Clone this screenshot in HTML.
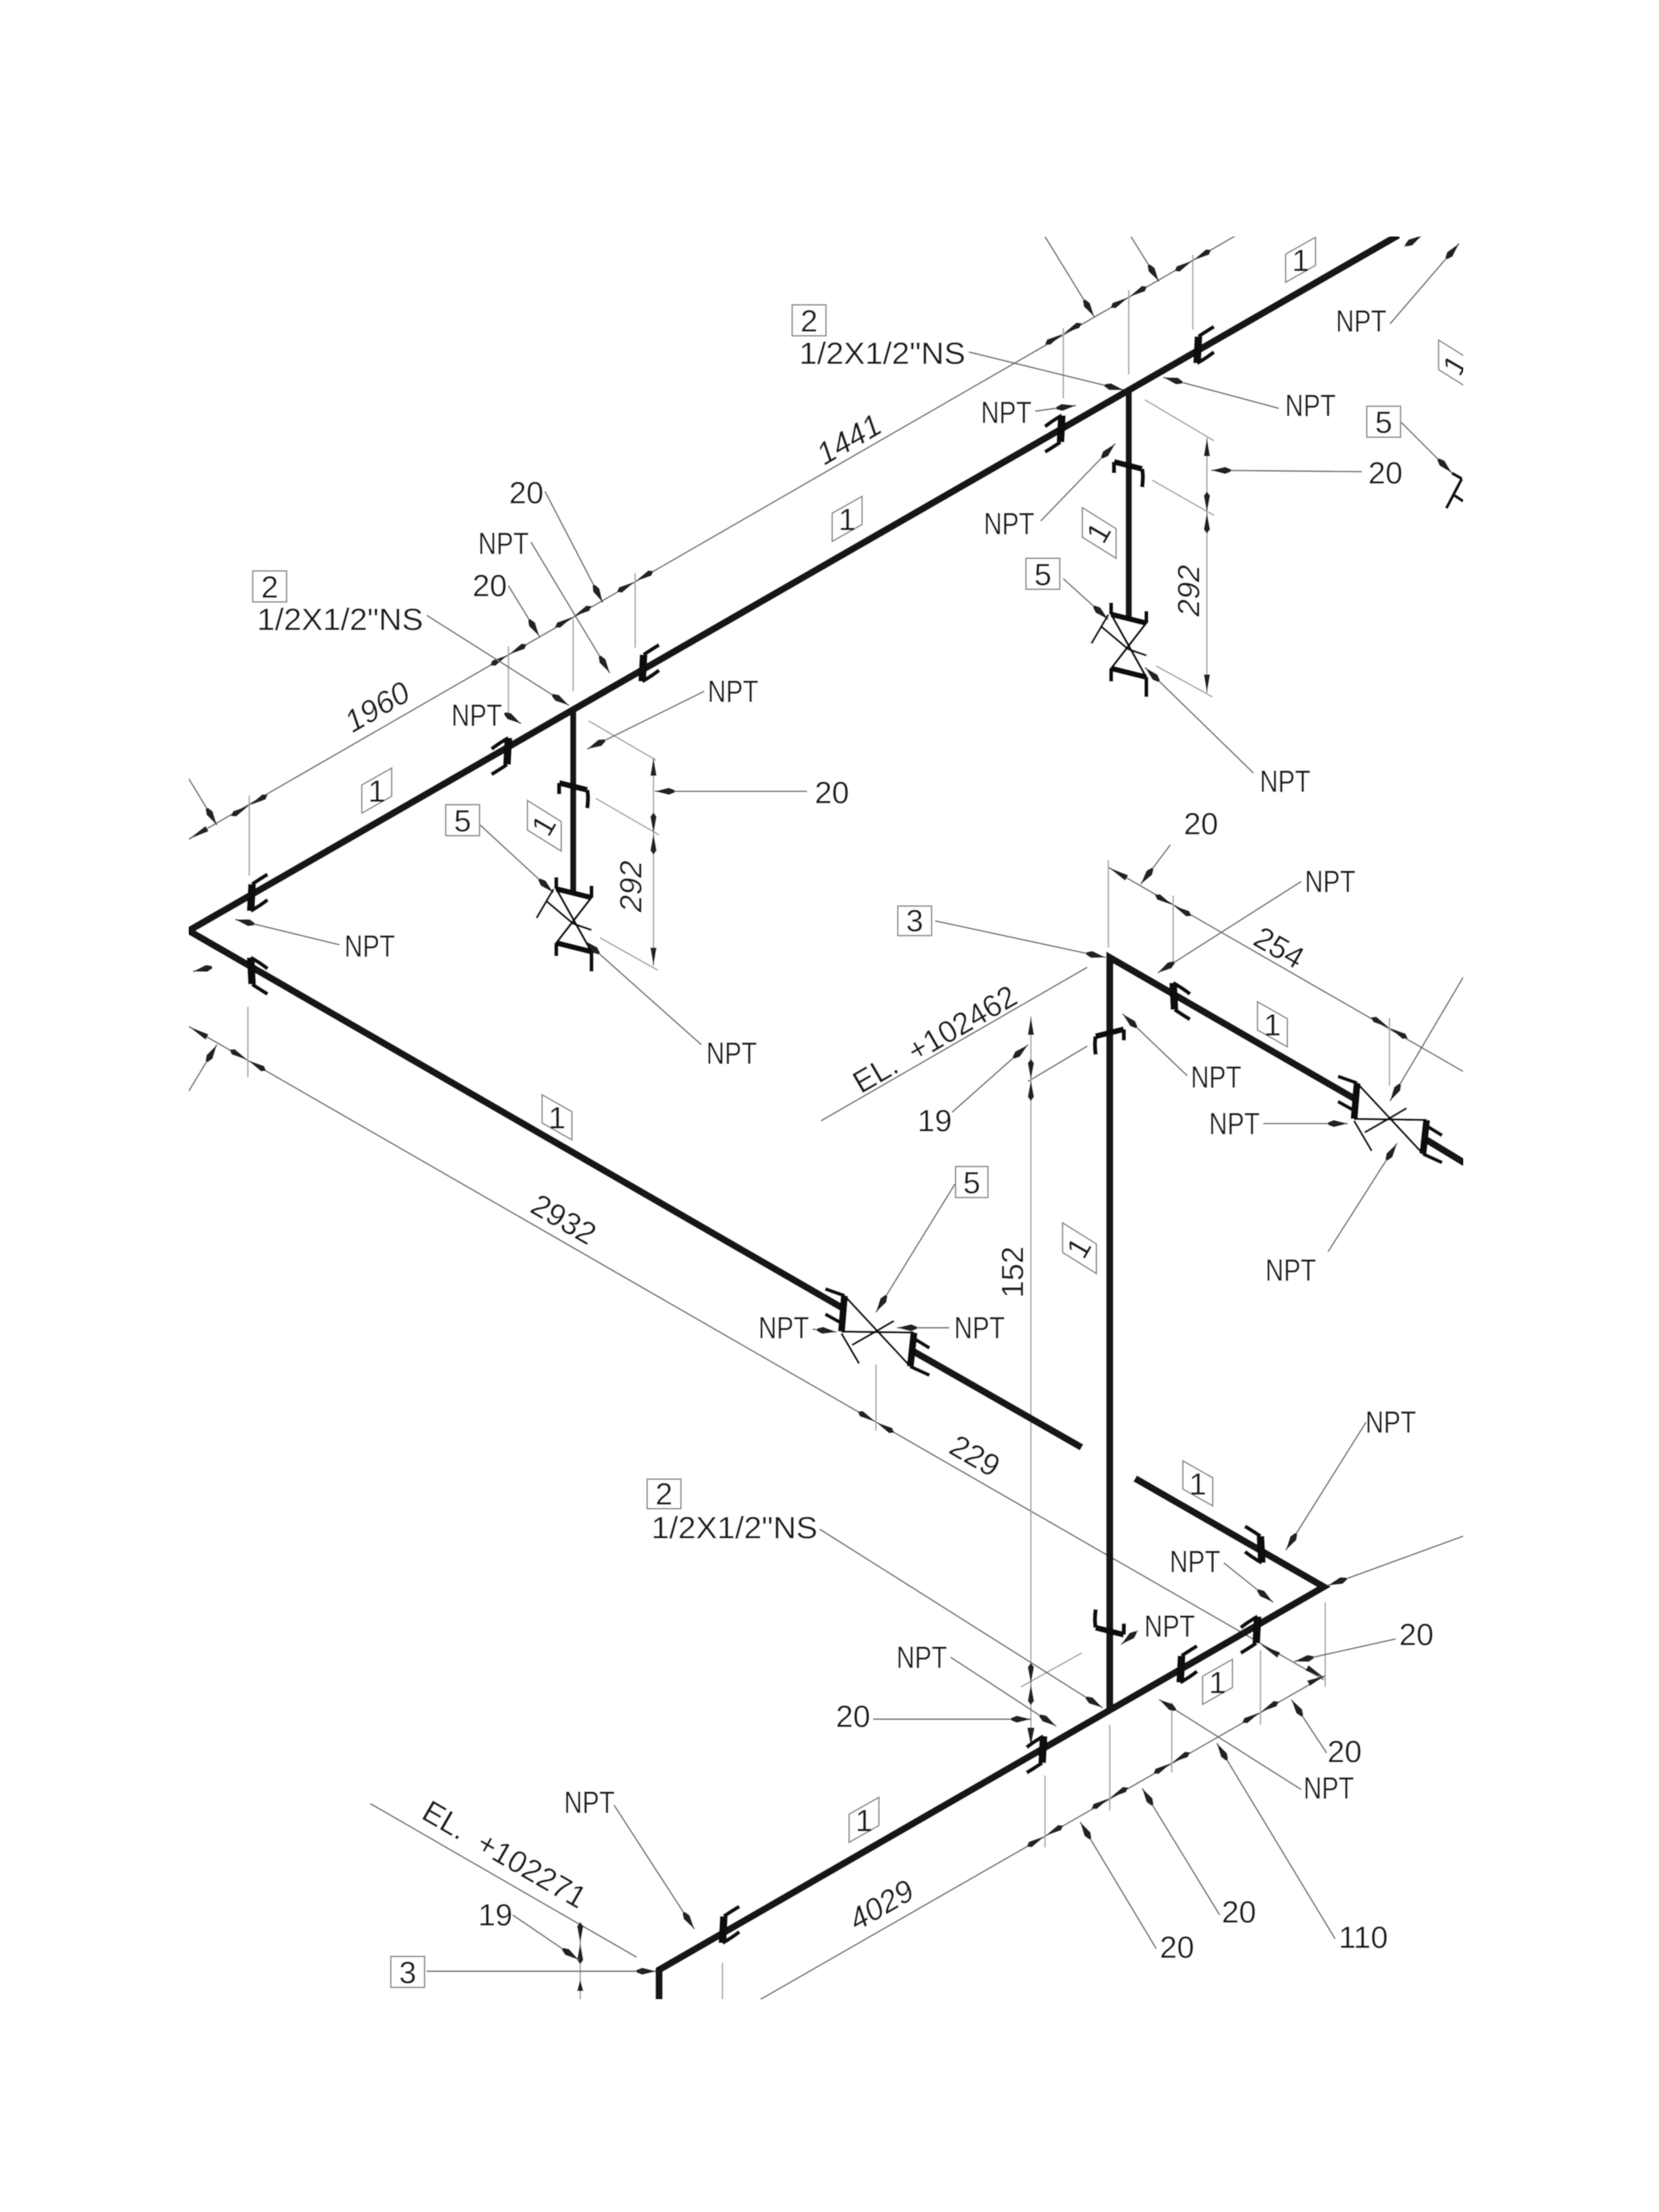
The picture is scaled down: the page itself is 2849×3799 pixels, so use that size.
<!DOCTYPE html>
<html><head><meta charset="utf-8"><style>
html,body{margin:0;padding:0;background:#fff;width:2849px;height:3799px;overflow:hidden}
svg{display:block}
text{font-family:"Liberation Sans",sans-serif;font-size:22px;fill:#1c1c1c}
.m{text-anchor:middle}
.i{font-style:italic}
.p{stroke:#121212;stroke-width:5;fill:none;stroke-linecap:butt}
.l{stroke:#707070;stroke-width:1;fill:none}
.g{stroke:#a8a8a8;stroke-width:1;fill:none}
.a{stroke:#707070;stroke-width:1;fill:none;marker-end:url(#ah)}
.b{fill:#fff;stroke:#8c8c8c;stroke-width:1}
</style></head><body>
<svg xmlns="http://www.w3.org/2000/svg" width="2849" height="3799" viewBox="0 0 1178 1571" preserveAspectRatio="none">
<defs>
<filter id="soft" x="0" y="0" width="100%" height="100%" filterUnits="userSpaceOnUse"><feGaussianBlur stdDeviation="0.35"/></filter>
<marker id="ah" viewBox="0 0 14 5" refX="14" refY="2.5" markerWidth="14" markerHeight="5" orient="auto" markerUnits="userSpaceOnUse"><path d="M0 1.6L4 0L14 2.5L4 5L0 3.4z" fill="#222"/></marker>
<clipPath id="c"><rect x="134" y="168" width="905" height="1252"/></clipPath>
<g id="dt"><path d="M-15 0L-12 -2.2L0 0L-12 2.2zM15 0L12 -2.2L0 0L12 2.2z" fill="#222"/></g>
<g id="fu" fill="none" stroke="#111"><path d="M0 -9L-1 10" stroke-width="5.5"/><path d="M0 -9Q6 -13 11 -16M-1 10Q6 6 11 2" stroke-width="2.8"/></g>
<g id="fd" fill="none" stroke="#111"><path d="M0 9L-1 -10" stroke-width="5.5"/><path d="M0 9Q6 13 11 16M-1 -10Q6 -6 11 -2" stroke-width="2.8"/></g>
<g id="fv" fill="none" stroke="#111"><path d="M-10 -2L10 3" stroke-width="4.2"/><path d="M-10 -2L-10 6M10 3Q11 8 10 16" stroke-width="3"/></g>
<g id="vv" fill="none" stroke="#111"><path d="M-12 -24.7L12.9 -18.5L-12 13.7L12.9 19.9Z" stroke-width="1.6"/><path d="M0 0L-19 -16M-26 -4L-14 -24.5M0 0L13 4.5" stroke-width="1.5"/><path d="M-12 -24.7L12.9 -18.5M-12 13.7L12.9 19.9" stroke-width="4"/><path d="M-12 -25L-12 -33M13 -18.5L13 -27M-12 14L-12 23M13 20L13 34" stroke-width="2.8"/></g>
<g id="vh" fill="none" stroke="#111"><path d="M-23.4 -24.8L23.4 25.5M-25.5 .7L26 1.4" stroke-width="1.5"/><path d="M0 0L-18 10.3M-25.5 2L-13 23.4M0 0L11.7 -6.9" stroke-width="1.5"/><path d="M-23.4 -24.8L-25.5 .7M26 1.4L23.4 25.5" stroke-width="5"/><path d="M-23.4 -24.8L-37 -29.6M-25 -5L-37 -11.7M25 5L37 12.4M23.4 25.5L37 31.7" stroke-width="2.6"/></g>
<polygon id="bu" points="-10.6,-4 10.6,-16 10.6,4 -10.6,16" class="b"/>
<polygon id="bd" points="-10.6,-16 10.6,-4 10.6,16 -10.6,4" class="b"/>
<polygon id="bv" points="-12,-18 12,-3 12,18 -12,3" class="b"/>
</defs>
<g clip-path="url(#c)"><g filter="url(#soft)">
<rect x="0" y="0" width="1178" height="1571" fill="#fff"/>

<path class="l" d="M134 596L885 163"/>
<path class="l" d="M134 729L940 1193"/>
<path class="l" d="M787 616L1039 761"/>
<path class="l" d="M540 1420L941 1190"/>
<path class="l" d="M583 796L772 687M772 743L730 768"/>
<path class="l" d="M263 1281L452 1390"/>
<path class="g" d="M464 538V686M857 311V492M732 722V1240M412 1367V1420"/>
<path class="g" d="M418 512L466 540M423 567L468 593M426 666L467 689M813 284L862 313M818 341L862 366M821 473L861 495M768 1174L725 1198"/>
<path class="g" d="M177 565V622M361 459V508M407 440V491M451 407V460M755 233V283M801.5 206V266M847 181V234M176 715V765M622 969V1016M787 611V673M833 636V683M986.6 723V771M742 1261V1312M788 1225V1286M832 1209V1259M895 1172V1225M941 1138V1198M513 1394V1420"/>

<use href="#dt" transform="translate(177,572) rotate(-30)"/>
<use href="#dt" transform="translate(361,465) rotate(-30)"/>
<use href="#dt" transform="translate(407,438) rotate(-30)"/>
<use href="#dt" transform="translate(451,413) rotate(-30)"/>
<use href="#dt" transform="translate(755,237) rotate(-30)"/>
<use href="#dt" transform="translate(801.5,211) rotate(-30)"/>
<use href="#dt" transform="translate(847,185) rotate(-30)"/>
<use href="#dt" transform="translate(176,753) rotate(30)"/>
<use href="#dt" transform="translate(622,1010) rotate(30)"/>
<use href="#dt" transform="translate(833,643) rotate(30)"/>
<use href="#dt" transform="translate(986.6,730) rotate(30)"/>
<use href="#dt" transform="translate(742,1304) rotate(-30)"/>
<use href="#dt" transform="translate(788,1277) rotate(-30)"/>
<use href="#dt" transform="translate(832,1252) rotate(-30)"/>
<use href="#dt" transform="translate(895,1216) rotate(-30)"/>
<use href="#dt" transform="translate(732,767) rotate(90)"/>
<use href="#dt" transform="translate(732,1196) rotate(90)"/>
<use href="#dt" transform="translate(464,592) rotate(90)"/>
<use href="#dt" transform="translate(857,364) rotate(90)"/>
<use href="#dt" transform="translate(412,1380) rotate(90)"/>
<path fill="#222" d="M464 538l-2.2 13h4.4zM464 686l-2.2 -13h4.4zM857 311l-2.2 13h4.4zM857 492l-2.2 -13h4.4zM732 722l-2.2 13h4.4zM732 1240l-2.6 -13h5.2zM412 1406l-2.2 8h4.4zM787 616l11.9 9.4l2.2 -3.8zM941 1192l-11.9 -9.4l-2.2 3.8zM941 1190l-13 3.6l2.2 3.8zM895 1168l11.9 9.4l2.2 -3.8zM134 729l11.9 9.4l2.2 -3.8zM134 596l11.9 -9.4l2.2 3.8z"/>

<path class="a" d="M987 230L1036 173"/>
<path class="a" d="M908 290L826 268"/>
<path class="a" d="M735 292L764 288"/>
<path class="a" d="M739 370L792 315"/>
<path class="a" d="M890 549L813 474"/>
<path class="a" d="M377 385L433 478"/>
<path class="a" d="M359 507L370 514"/>
<path class="a" d="M500 491L417 532"/>
<path class="a" d="M241 671L167 653"/>
<path class="a" d="M498 742L415 668"/>
<path class="a" d="M924 626L822 691"/>
<path class="a" d="M843 764L797 720"/>
<path class="a" d="M897 798L957 798"/>
<path class="a" d="M943 889L992 812"/>
<path class="a" d="M1039 694L987 782"/>
<path class="a" d="M577 944L594 946"/>
<path class="a" d="M674 943L637 943"/>
<path class="a" d="M678 841L622 932"/>
<path class="a" d="M970 1010L913 1101"/>
<path class="a" d="M869 1110L904 1138"/>
<path class="a" d="M808 1158L796 1168"/>
<path class="a" d="M675 1177L750 1226"/>
<path class="a" d="M924 1271L823 1207"/>
<path class="a" d="M387 349L428 428"/>
<path class="a" d="M361 416L383 452"/>
<path class="a" d="M573 562L465 562"/>
<path class="a" d="M967 335L860 334"/>
<path class="a" d="M831 600L810 628"/>
<path class="a" d="M991 1164L919 1180"/>
<path class="a" d="M942 1245L917 1207"/>
<path class="a" d="M866 1360L811 1270"/>
<path class="a" d="M821 1384L767 1294"/>
<path class="a" d="M948 1377L864 1238"/>
<path class="a" d="M620 1221L732 1221"/>
<path class="a" d="M303 437L404 501"/>
<path class="a" d="M688 250L798 277"/>
<path class="a" d="M582 1086L783 1213"/>
<path class="a" d="M341 586L393 634"/>
<path class="a" d="M755 411L787 440"/>
<path class="a" d="M995 300L1031 336"/>
<path class="a" d="M664 654L785 680"/>
<path class="a" d="M676 790L730 742"/>
<path class="a" d="M364 1360L411 1392"/>
<path class="a" d="M303 1400L466 1400"/>
<path class="a" d="M436 1282L493 1370"/>
<path class="a" d="M742 168L777 225"/>
<path class="a" d="M803 168L823 200"/>
<path class="a" d="M134 553L154 586"/>
<path class="a" d="M134 775L154 742"/>
<path class="a" d="M150 687L137 690"/>
<path class="a" d="M1039 1091L943 1126"/>
<path class="a" d="M997 175L1010 167"/>

<path class="p" d="M993 167L134 661L600 930"/>
<path class="p" d="M649 960L768 1028"/>
<path class="p" d="M806 1050L940 1127L468 1399V1420"/>
<path class="p" d="M963 781L788 680V1215"/>
<path class="p" d="M1012 809L1040 826"/>
<path class="p" d="M407 504V634" style="stroke-width:4.4"/>
<path class="p" d="M801.5 277V440" style="stroke-width:4.4"/>

<use href="#fu" x="179" y="637"/>
<use href="#fu" x="457" y="474"/>
<use href="#fu" x="851" y="248"/>
<use href="#fu" x="514" y="1370"/>
<use href="#fu" x="839" y="1185"/>
<use href="#fu" transform="translate(360,534) rotate(180)"/>
<use href="#fu" transform="translate(753,305) rotate(180)"/>
<use href="#fu" transform="translate(740,1243) rotate(180)"/>
<use href="#fu" transform="translate(892,1158) rotate(180)"/>
<use href="#fd" x="179" y="690"/>
<use href="#fd" x="834" y="708"/>
<use href="#fd" transform="translate(895,1100) rotate(180)"/>
<use href="#fv" x="407" y="558"/>
<use href="#fv" x="801" y="330"/>
<use href="#fv" transform="translate(788,733) scale(-1,1)"/>
<use href="#fv" transform="translate(788,1159) rotate(180)"/>

<use href="#vv" x="407" y="656"/>
<use href="#vv" x="801" y="461"/>
<use href="#vh" x="623" y="945"/>
<use href="#vh" x="987" y="794"/>
<path d="M1031 336L1038 340M1038 340L1027 361M1033 352L1039 356" fill="none" stroke="#111" stroke-width="2.2"/>

<g transform="translate(1.5,1.5)">
<rect class="b" x="561" y="215" width="24" height="22"/>
<rect class="b" x="178" y="404" width="24" height="22"/>
<rect class="b" x="458" y="1049" width="24" height="21"/>
<rect class="b" x="727" y="395" width="24" height="22"/>
<rect class="b" x="315" y="570" width="24" height="22"/>
<rect class="b" x="677" y="827" width="23" height="22"/>
<rect class="b" x="969" y="287" width="24" height="22"/>
<rect class="b" x="636" y="642" width="24" height="21"/>
<rect class="b" x="276" y="1388" width="24" height="22"/>
<text class="m" x="573" y="234">2</text>
<text class="m" x="190" y="423">2</text>
<text class="m" x="470" y="1067">2</text>
<text class="m" x="739" y="414">5</text>
<text class="m" x="327" y="589">5</text>
<text class="m" x="688.5" y="846">5</text>
<text class="m" x="981" y="306">5</text>
<text class="m" x="648" y="660">3</text>
<text class="m" x="288" y="1407">3</text>

<use href="#bu" x="922" y="183"/><text class="m" x="922" y="191">1</text>
<use href="#bu" x="600" y="367"/><text class="m" x="600" y="375">1</text>
<use href="#bu" x="266" y="560"/><text class="m" x="266" y="568">1</text>
<use href="#bu" x="612" y="1291"/><text class="m" x="612" y="1299">1</text>
<use href="#bu" x="863" y="1193"/><text class="m" x="863" y="1201">1</text>
<use href="#bd" x="394" y="792"/><text class="m" x="394" y="800">1</text>
<use href="#bd" x="902" y="726"/><text class="m" x="902" y="734">1</text>
<use href="#bd" x="849" y="1052"/><text class="m" x="849" y="1060">1</text>
<use href="#bv" x="385" y="585"/><text class="m" transform="translate(385,585) rotate(-60)" y="7">1</text>
<use href="#bv" x="779" y="377"/><text class="m" transform="translate(779,377) rotate(-60)" y="7">1</text>
<use href="#bv" x="1032" y="258"/><text class="m" transform="translate(1032,258) rotate(-60)" y="7">1</text>
<use href="#bv" x="765" y="885"/><text class="m" transform="translate(765,885) rotate(-60)" y="7">1</text>

<text x="566" y="257" textLength="118" lengthAdjust="spacingAndGlyphs">1/2X1/2"NS</text>
<text x="181" y="446" textLength="118" lengthAdjust="spacingAndGlyphs">1/2X1/2"NS</text>
<text x="461" y="1091" textLength="118" lengthAdjust="spacingAndGlyphs">1/2X1/2"NS</text>

<text x="947" y="234" textLength="36" lengthAdjust="spacingAndGlyphs">NPT</text>
<text x="911" y="294" textLength="36" lengthAdjust="spacingAndGlyphs">NPT</text>
<text x="695" y="299" textLength="36" lengthAdjust="spacingAndGlyphs">NPT</text>
<text x="697" y="378" textLength="36" lengthAdjust="spacingAndGlyphs">NPT</text>
<text x="893" y="561" textLength="36" lengthAdjust="spacingAndGlyphs">NPT</text>
<text x="338" y="392" textLength="36" lengthAdjust="spacingAndGlyphs">NPT</text>
<text x="319" y="514" textLength="36" lengthAdjust="spacingAndGlyphs">NPT</text>
<text x="501" y="497" textLength="36" lengthAdjust="spacingAndGlyphs">NPT</text>
<text x="243" y="678" textLength="36" lengthAdjust="spacingAndGlyphs">NPT</text>
<text x="500" y="754" textLength="36" lengthAdjust="spacingAndGlyphs">NPT</text>
<text x="925" y="632" textLength="36" lengthAdjust="spacingAndGlyphs">NPT</text>
<text x="844" y="771" textLength="36" lengthAdjust="spacingAndGlyphs">NPT</text>
<text x="857" y="804" textLength="36" lengthAdjust="spacingAndGlyphs">NPT</text>
<text x="897" y="908" textLength="36" lengthAdjust="spacingAndGlyphs">NPT</text>
<text x="537" y="949" textLength="36" lengthAdjust="spacingAndGlyphs">NPT</text>
<text x="676" y="949" textLength="36" lengthAdjust="spacingAndGlyphs">NPT</text>
<text x="968" y="1016" textLength="36" lengthAdjust="spacingAndGlyphs">NPT</text>
<text x="829" y="1115" textLength="36" lengthAdjust="spacingAndGlyphs">NPT</text>
<text x="811" y="1161" textLength="36" lengthAdjust="spacingAndGlyphs">NPT</text>
<text x="635" y="1183" textLength="36" lengthAdjust="spacingAndGlyphs">NPT</text>
<text x="924" y="1276" textLength="36" lengthAdjust="spacingAndGlyphs">NPT</text>
<text x="399" y="1286" textLength="36" lengthAdjust="spacingAndGlyphs">NPT</text>

<text x="360" y="356">20</text>
<text x="334" y="422">20</text>
<text x="577" y="569">20</text>
<text x="970" y="342">20</text>
<text x="839" y="591">20</text>
<text x="992" y="1167">20</text>
<text x="941" y="1250">20</text>
<text x="866" y="1364">20</text>
<text x="822" y="1389">20</text>
<text x="592" y="1225">20</text>
<text x="949" y="1382">110</text>
<text x="650" y="802">19</text>
<text x="338" y="1366">19</text>

<text class="m i" transform="translate(270,507) rotate(-30)">1960</text>
<text class="m i" transform="translate(605,317) rotate(-30)">1441</text>
<text class="m i" transform="translate(628,1358) rotate(-30)">4029</text>
<text class="m" transform="translate(395,871) rotate(30)">2932</text>
<text class="m" transform="translate(687,1039) rotate(30)">229</text>
<text class="m" transform="translate(903,678) rotate(30)">254</text>
<text class="m i" transform="translate(454,628) rotate(-90)">292</text>
<text class="m i" transform="translate(850,418) rotate(-90)">292</text>
<text class="m" transform="translate(725,902) rotate(-90)">152</text>
<text class="m" transform="translate(666,743) rotate(-30)" textLength="130" lengthAdjust="spacingAndGlyphs">EL.&#160;&#160;+102462</text>
<text class="m" transform="translate(353,1322) rotate(30)" textLength="130" lengthAdjust="spacingAndGlyphs">EL.&#160;&#160;+102271</text>
</g>
</g></g>
</svg>
</body></html>
